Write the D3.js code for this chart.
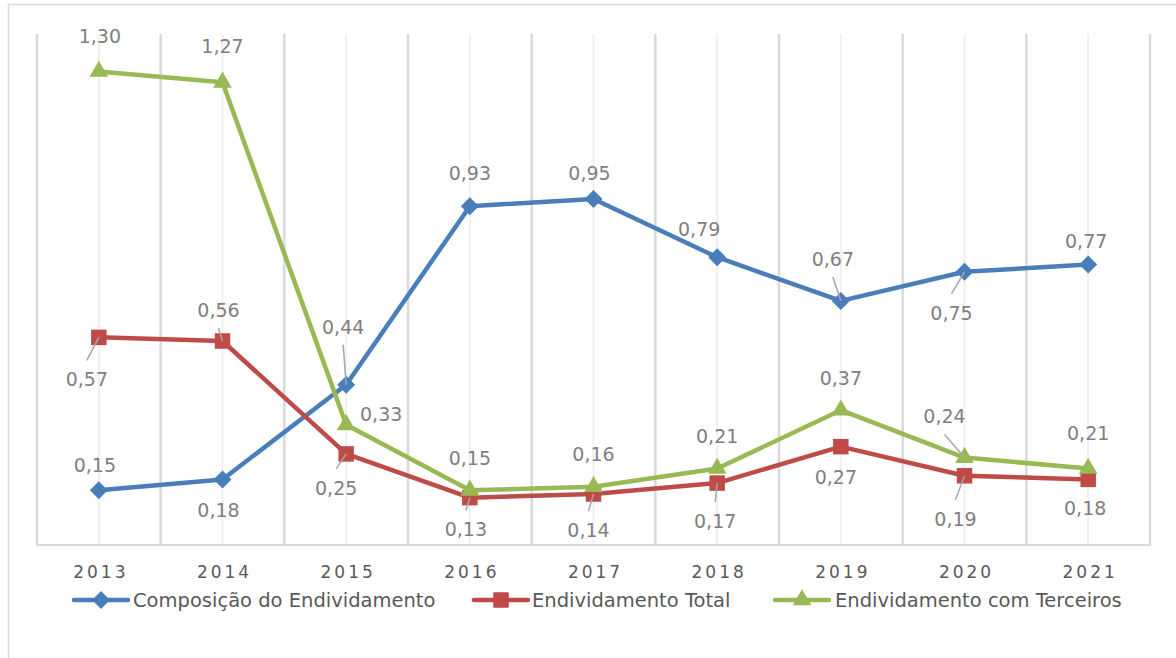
<!DOCTYPE html>
<html>
<head>
<meta charset="utf-8">
<script src="https://cdn.jsdelivr.net/npm/d3@7"></script>
<style>
  html, body { margin: 0; padding: 0; background: #fff; }
  svg { display: block; font-family: 'DejaVu Sans', sans-serif; }
</style>
</head>
<body>
<svg id="chart"></svg>
<script>
// data
const years = ['2013', '2014', '2015', '2016', '2017', '2018', '2019', '2020', '2021'];
const composicao = [0.15, 0.18, 0.44, 0.93, 0.95, 0.79, 0.67, 0.75, 0.77];
const endivTotal = [0.57, 0.56, 0.25, 0.13, 0.14, 0.17, 0.27, 0.19, 0.18];
const endivTerceiros = [1.30, 1.27, 0.33, 0.15, 0.16, 0.21, 0.37, 0.24, 0.21];
const seriesNames = ['Composição do Endividamento', 'Endividamento Total', 'Endividamento com Terceiros'];

// label placement (offset from point, whether a leader line is drawn)
const labelsComposicao = [[-4, -25, 0], [-4, 31, 0], [-3, -58, 1], [0, -33, 0], [-4, -26, 0], [-18, -28, 0], [-8, -42, 1], [-13, 41, 1], [-2, -23, 0]];
const labelsTotal = [[-12, 42, 1], [-4, -31, 1], [-10, 34, 1], [-4, 32, 1], [-5, 36, 1], [-2, 38, 1], [-5, 31, 0], [-9, 43, 1], [-3, 29, 0]];
const labelsTerceiros = [[1, -35, 0], [0, -36, 0], [35, -11, 0], [0, -32, 0], [0, -33, 0], [0, -32, 0], [0, -32, 0], [-20, -41, 1], [0, -35, 0]];

const W = 1176, H = 658;
const plotLeft = 37, plotRight = 1150, plotTop = 34, plotBottom = 545;

const fmt = v => d3.format('.2f')(v).replace('.', ',');

const svg = d3.select('#chart').attr('width', W).attr('height', H);

// outer chart border
svg.append('rect')
  .attr('x', 8.5).attr('y', 4.5)
  .attr('width', 1200).attr('height', 700)
  .attr('fill', 'none').attr('stroke', '#d9d9d9').attr('stroke-width', 1.5);

const x = d3.scalePoint().domain(years).range([plotLeft, plotRight]).padding(0.5);
const y = d3.scaleLinear().domain([0, 1.4]).range([plotBottom, plotTop + 1]);
const step = x.step();

// vertical gridlines: band boundaries and category centres
const bounds = d3.range(years.length + 1).map(i => plotLeft + i * step);
svg.append('g').selectAll('line')
  .data(years)
  .enter().append('line')
  .attr('x1', d => x(d)).attr('x2', d => x(d))
  .attr('y1', plotTop).attr('y2', plotBottom)
  .attr('stroke', '#f0f0f0').attr('stroke-width', 2);
svg.append('g').selectAll('line')
  .data(bounds)
  .enter().append('line')
  .attr('x1', d => d).attr('x2', d => d)
  .attr('y1', plotTop).attr('y2', plotBottom)
  .attr('stroke', '#d9d9d9').attr('stroke-width', 2.5);

// bottom axis
svg.append('line')
  .attr('x1', plotLeft - 1).attr('x2', plotRight + 1)
  .attr('y1', plotBottom).attr('y2', plotBottom)
  .attr('stroke', '#d9d9d9').attr('stroke-width', 2);

const xAxis = svg.append('g')
  .attr('transform', `translate(0,${plotBottom})`)
  .call(d3.axisBottom(x).tickSize(0).tickPadding(21));
xAxis.select('.domain').remove();
xAxis.selectAll('text')
  .attr('fill', '#595959')
  .style('font-family', "'DejaVu Sans', sans-serif")
  .style('font-size', '17px')
  .style('letter-spacing', '3px')
  .attr('dx', '1.5');

const diamond = 'M0,-9L9,0L0,9L-9,0Z';
const square = d3.symbol(d3.symbolSquare, 240)();
const triangle = d3.symbol(d3.symbolTriangle, 150)();

const series = [
  { name: seriesNames[0], values: composicao, labels: labelsComposicao, color: '#4a7ebb', marker: diamond },
  { name: seriesNames[1], values: endivTotal, labels: labelsTotal, color: '#be4b48', marker: square },
  { name: seriesNames[2], values: endivTerceiros, labels: labelsTerceiros, color: '#98b954', marker: triangle }
];

const line = d3.line()
  .x((d, i) => x(years[i]))
  .y(d => y(d));

series.forEach(s => {
  svg.append('path')
    .datum(s.values)
    .attr('d', line)
    .attr('fill', 'none')
    .attr('stroke', s.color)
    .attr('stroke-width', 4.5)
    .attr('stroke-linejoin', 'round');

  svg.append('g').selectAll('path')
    .data(s.values)
    .enter().append('path')
    .attr('d', s.marker)
    .attr('transform', (d, i) => `translate(${x(years[i])},${y(d)})`)
    .attr('fill', s.color);
});

// data labels with leader lines
series.forEach(s => {
  const g = svg.append('g');
  s.values.forEach((v, i) => {
    const px = x(years[i]), py = y(v);
    const [dx, dy, lead] = s.labels[i];
    const lx = px + dx, ly = py + dy;
    if (lead) {
      const ey = ly + (dy < 0 ? 18 : -19);
      g.append('line')
        .attr('x1', lx).attr('y1', ey)
        .attr('x2', px).attr('y2', py)
        .attr('stroke', '#a6a6a6').attr('stroke-width', 1.5);
    }
    g.append('text')
      .attr('x', lx).attr('y', ly)
      .attr('dy', '0.36em')
      .attr('text-anchor', 'middle')
      .attr('fill', '#7f7f7f')
      .style('font-size', '19px')
      .text(fmt(v));
  });
});

// legend
const legendY = 600;
const legendItems = [
  { lineX: 74, textX: 133 },
  { lineX: 474, textX: 532 },
  { lineX: 775, textX: 835 }
];
series.forEach((s, i) => {
  const it = legendItems[i];
  const g = svg.append('g').attr('transform', `translate(${it.lineX},${legendY})`);
  g.append('line')
    .attr('x1', 0).attr('x2', 54)
    .attr('stroke', s.color).attr('stroke-width', 4.5)
    .attr('stroke-linecap', 'round');
  g.append('path')
    .attr('d', s.marker)
    .attr('transform', 'translate(27,0)')
    .attr('fill', s.color);
  svg.append('text')
    .attr('x', it.textX).attr('y', legendY)
    .attr('dy', '0.36em')
    .attr('fill', '#595959')
    .style('font-size', '19.5px')
    .text(s.name);
});
</script>
</body>
</html>
